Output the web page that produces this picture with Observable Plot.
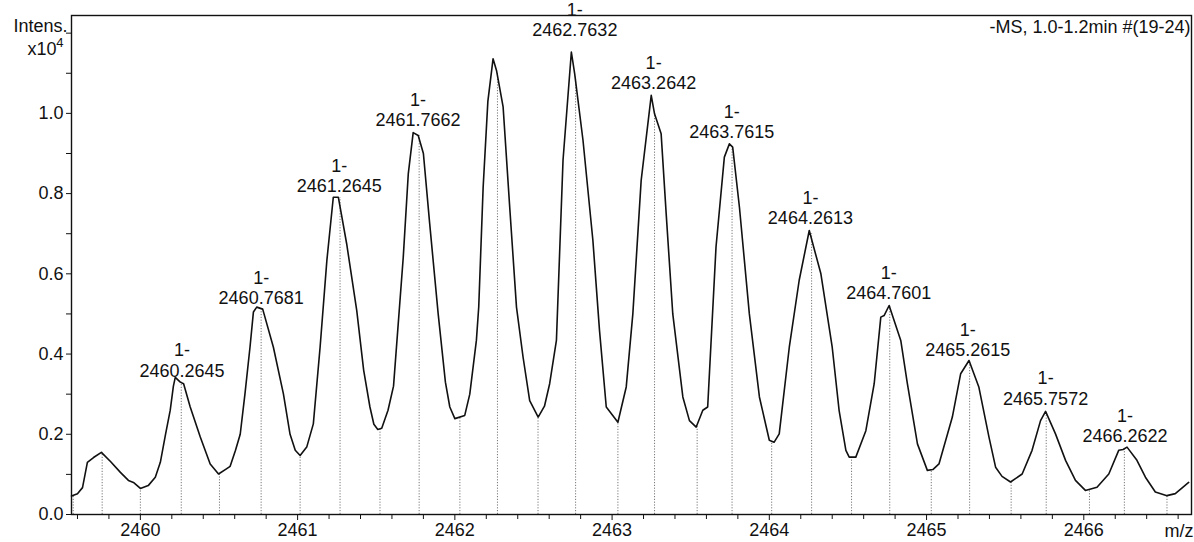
<!DOCTYPE html>
<html>
<head>
<meta charset="utf-8">
<script src="https://cdn.jsdelivr.net/npm/d3@7"></script>
<script src="https://cdn.jsdelivr.net/npm/@observablehq/plot@0.6"></script>
<style>
  html, body { margin: 0; padding: 0; background: #fff; }
  #chart { width: 1194px; height: 542px; }
</style>
</head>
<body>
<div id="chart"></div>
<script>
// Profile spectrum (m/z, intensity in units of 10^4)
const curveMz = [
  2459.562, 2459.600, 2459.632, 2459.663, 2459.702, 2459.752, 2459.810, 2459.873, 2459.924, 2459.956,
  2460.000, 2460.050, 2460.095, 2460.127, 2460.160, 2460.190, 2460.210, 2460.222, 2460.254, 2460.275,
  2460.317, 2460.381, 2460.444, 2460.497, 2460.540, 2460.571, 2460.605, 2460.635, 2460.665, 2460.698,
  2460.719, 2460.740, 2460.778, 2460.846, 2460.910, 2460.952, 2460.985, 2461.016, 2461.058, 2461.100,
  2461.143, 2461.186, 2461.227, 2461.259, 2461.312, 2461.376, 2461.420, 2461.460, 2461.485, 2461.510,
  2461.535, 2461.575, 2461.610, 2461.672, 2461.704, 2461.735, 2461.767, 2461.800, 2461.840, 2461.894,
  2461.940, 2461.968, 2462.000, 2462.063, 2462.095, 2462.137, 2462.152, 2462.180, 2462.210, 2462.243,
  2462.265, 2462.307, 2462.349, 2462.392, 2462.434, 2462.476, 2462.530, 2462.570, 2462.603, 2462.646,
  2462.688, 2462.741, 2462.762, 2462.815, 2462.878, 2462.920, 2462.963, 2463.037, 2463.090, 2463.132,
  2463.185, 2463.249, 2463.270, 2463.312, 2463.344, 2463.386, 2463.450, 2463.492, 2463.535, 2463.577,
  2463.608, 2463.661, 2463.714, 2463.746, 2463.767, 2463.810, 2463.873, 2463.937, 2464.000, 2464.030,
  2464.063, 2464.127, 2464.190, 2464.254, 2464.328, 2464.400, 2464.444, 2464.487, 2464.508, 2464.550,
  2464.614, 2464.667, 2464.709, 2464.730, 2464.762, 2464.836, 2464.878, 2464.942, 2465.005, 2465.040,
  2465.079, 2465.164, 2465.217, 2465.270, 2465.333, 2465.397, 2465.439, 2465.480, 2465.534, 2465.608,
  2465.671, 2465.725, 2465.757, 2465.820, 2465.884, 2465.947, 2466.010, 2466.084, 2466.159, 2466.222,
  2466.250, 2466.275, 2466.338, 2466.392, 2466.455, 2466.529, 2466.582, 2466.667
];
const curveIntensity = [
  0.046, 0.052, 0.067, 0.130, 0.142, 0.155, 0.132, 0.105, 0.085, 0.080,
  0.065, 0.072, 0.093, 0.130, 0.200, 0.260, 0.320, 0.342, 0.330, 0.326,
  0.268, 0.193, 0.126, 0.101, 0.112, 0.120, 0.160, 0.200, 0.300, 0.420,
  0.505, 0.517, 0.512, 0.417, 0.300, 0.200, 0.160, 0.147, 0.168, 0.226,
  0.417, 0.633, 0.791, 0.791, 0.675, 0.509, 0.360, 0.268, 0.225, 0.212,
  0.215, 0.260, 0.320, 0.642, 0.850, 0.952, 0.945, 0.900, 0.725, 0.500,
  0.330, 0.268, 0.239, 0.247, 0.300, 0.434, 0.518, 0.816, 1.030, 1.136,
  1.107, 1.016, 0.766, 0.517, 0.392, 0.284, 0.243, 0.270, 0.326, 0.434,
  0.883, 1.153, 1.099, 0.933, 0.683, 0.459, 0.268, 0.230, 0.318, 0.500,
  0.833, 1.045, 0.999, 0.949, 0.750, 0.500, 0.293, 0.234, 0.218, 0.260,
  0.268, 0.667, 0.891, 0.924, 0.916, 0.766, 0.500, 0.293, 0.185, 0.180,
  0.201, 0.417, 0.584, 0.708, 0.600, 0.417, 0.259, 0.160, 0.143, 0.143,
  0.209, 0.326, 0.492, 0.496, 0.521, 0.434, 0.326, 0.176, 0.110, 0.112,
  0.126, 0.243, 0.351, 0.384, 0.317, 0.193, 0.118, 0.095, 0.081, 0.101,
  0.160, 0.234, 0.257, 0.201, 0.135, 0.085, 0.060, 0.068, 0.101, 0.160,
  0.162, 0.168, 0.135, 0.093, 0.056, 0.047, 0.052, 0.080
];

// Dotted drop lines at detected peaks and valleys
const dropMz = [
  2459.573, 2459.757, 2460.000, 2460.260, 2460.503, 2460.768, 2461.016, 2461.270, 2461.524, 2461.773,
  2462.032, 2462.271, 2462.529, 2462.768, 2463.037, 2463.270, 2463.541, 2463.763, 2464.015, 2464.269,
  2464.523, 2464.766, 2465.030, 2465.274, 2465.538, 2465.761, 2466.036, 2466.258, 2466.529
];
const dropIntensity = [
  0.048, 0.155, 0.065, 0.330, 0.101, 0.510, 0.147, 0.790, 0.212, 0.945,
  0.242, 1.100, 0.243, 1.090, 0.230, 0.999, 0.220, 0.916, 0.181, 0.700,
  0.143, 0.520, 0.111, 0.384, 0.081, 0.255, 0.062, 0.165, 0.047
];

// Peak annotations
const labelCharge = ["1-", "1-", "1-", "1-", "1-", "1-", "1-", "1-", "1-", "1-", "1-", "1-"];
const labelMz = [
  "2460.2645", "2460.7681", "2461.2645", "2461.7662", "2462.7632", "2463.2642",
  "2463.7615", "2464.2613", "2464.7601", "2465.2615", "2465.7572", "2466.2622"
];
const labelIntensity = [0.344, 0.524, 0.803, 0.968, 1.192, 1.060, 0.938, 0.723, 0.536, 0.394, 0.274, 0.180];

// Axes
const xTicks = [2460, 2461, 2462, 2463, 2464, 2465, 2466];
const xTickLabels = ["2460", "2461", "2462", "2463", "2464", "2465", "2466"];
const xMinorTicks = [
  2459.6, 2459.8, 2460.2, 2460.4, 2460.6, 2460.8, 2461.2, 2461.4, 2461.6, 2461.8,
  2462.2, 2462.4, 2462.6, 2462.8, 2463.2, 2463.4, 2463.6, 2463.8, 2464.2, 2464.4,
  2464.6, 2464.8, 2465.2, 2465.4, 2465.6, 2465.8, 2466.2, 2466.4, 2466.6
];
const yTicks = [0, 0.2, 0.4, 0.6, 0.8, 1.0];
const yTickLabels = ["0.0", "0.2", "0.4", "0.6", "0.8", "1.0"];
const yMinorTicks = [0.1, 0.3, 0.5, 0.7, 0.9, 1.1, 1.2];

const titleRight = "-MS, 1.0-1.2min #(19-24)";
const yTitle1 = "Intens.";
const yTitle2 = "x10";
const yTitle2Exp = "4";
const xTitle = "m/z";

const curve = curveMz.map((x, i) => ({x, y: curveIntensity[i]}));
const drops = dropMz.map((x, i) => ({x, y: dropIntensity[i]}));
const labels = labelMz.map((m, i) => ({x: +m, y: labelIntensity[i], text: labelCharge[i] + "\n" + m}));

const chart = Plot.plot({
  width: 1194,
  height: 542,
  marginLeft: 71,
  marginRight: 3,
  marginTop: 15,
  marginBottom: 28,
  x: {domain: [2459.562, 2466.685], label: null},
  y: {domain: [0, 1.244], label: null},
  style: {fontFamily: "'Liberation Sans', Arial, sans-serif", fontSize: "18px", background: "#fff", color: "#111"},
  marks: [
    Plot.ruleX(drops, {x: "x", y1: 0, y2: "y", stroke: "#777", strokeWidth: 1, strokeDasharray: "1.2,1.6"}),
    Plot.line(curve, {x: "x", y: "y", stroke: "#111", strokeWidth: 1.6, strokeLinejoin: "round"}),
    Plot.frame({stroke: "#111", strokeWidth: 1.4}),
    Plot.axisX(xTicks, {label: null, tickSize: 6, tickPadding: 3, tickFormat: (d, i) => xTickLabels[i], stroke: "#111", fill: "#111"}),
    Plot.axisX(xMinorTicks, {label: null, tickSize: 5, text: null, stroke: "#111"}),
    Plot.axisY(yTicks, {label: null, tickSize: 5, tickPadding: 3, tickFormat: (d, i) => yTickLabels[i], stroke: "#111", fill: "#111"}),
    Plot.axisY(yMinorTicks, {label: null, tickSize: 5, text: null, stroke: "#111"}),
    Plot.text(labels, {x: "x", y: "y", text: "text", lineAnchor: "bottom", lineHeight: 1.12, fill: "#111", fontSize: 18}),
    Plot.text([titleRight], {frameAnchor: "top-right", textAnchor: "end", lineAnchor: "middle", dx: -1, dy: 12, fill: "#111", fontSize: 18}),
    Plot.text([yTitle1], {frameAnchor: "top-left", textAnchor: "end", lineAnchor: "middle", dx: -4, dy: 11, fill: "#111", fontSize: 18}),
    Plot.text([yTitle2], {frameAnchor: "top-left", textAnchor: "end", lineAnchor: "middle", dx: -15, dy: 34, fill: "#111", fontSize: 18}),
    Plot.text([yTitle2Exp], {frameAnchor: "top-left", textAnchor: "end", lineAnchor: "middle", dx: -8, dy: 27, fill: "#111", fontSize: 13}),
    Plot.text([xTitle], {frameAnchor: "bottom-right", textAnchor: "end", lineAnchor: "middle", dx: 2, dy: 17, fill: "#111", fontSize: 18})
  ]
});
document.getElementById("chart").appendChild(chart);
</script>
</body>
</html>
